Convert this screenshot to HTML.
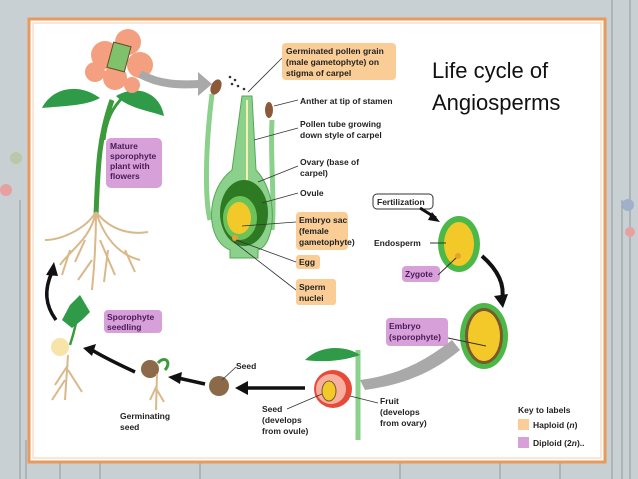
<!DOCTYPE html>
<html><head><style>
body{margin:0;width:638px;height:479px;overflow:hidden;background:#c9d0d3;}
svg{display:block}
text{font-family:"Liberation Sans",sans-serif;font-weight:bold;font-size:8.5px;fill:#222}
</style></head><body>
<svg width="638" height="479" viewBox="0 0 638 479">
<rect x="0" y="0" width="638" height="479" fill="#c9d0d3"/>
<g stroke="#8f999d" stroke-width="1" fill="none">
<path d="M20 200 V479"/><path d="M26 440 V479"/><path d="M612 0 V479"/><path d="M622 200 V479"/><path d="M630 0 V479"/>
<path d="M60 463 V479 M100 463 V479 M200 463V479 M400 463V479 M500 463V479 M560 463V479"/>
</g>
<circle cx="16" cy="158" r="6" fill="#b9c8a8"/><circle cx="6" cy="190" r="6" fill="#e7a0a0"/><circle cx="628" cy="205" r="6" fill="#9fb0c8"/><circle cx="630" cy="232" r="5" fill="#e7a0a0"/>
<rect x="29" y="19" width="576" height="443" fill="#fff" stroke="#e89a5a" stroke-width="3"/>
<rect x="33" y="23" width="568" height="435" fill="none" stroke="#f3d2b0" stroke-width="1"/>

<text x="432" y="78" style="font-size:22px;font-weight:normal;fill:#111">Life cycle of</text>
<text x="432" y="110" style="font-size:22px;font-weight:normal;fill:#111">Angiosperms</text>

<!-- plant -->
<path d="M96 215 C98 170 98 140 112 100" stroke="#3c9a3c" stroke-width="5" fill="none"/>
<path d="M104 140 C106 120 112 108 124 96" stroke="#3c9a3c" stroke-width="3" fill="none"/>
<path d="M42 108 C52 88 78 82 100 98 C86 106 62 106 42 108Z" fill="#2f9a48"/>
<path d="M116 96 C136 84 160 92 164 116 C146 110 128 108 116 96Z" fill="#2f9a48"/>
<g fill="#f4a080">
<circle cx="105" cy="55" r="14"/><circle cx="128" cy="42" r="13"/><circle cx="140" cy="65" r="13"/><circle cx="115" cy="78" r="12"/><circle cx="95" cy="72" r="10"/><circle cx="132" cy="85" r="8"/>
</g>
<rect x="110" y="44" width="18" height="26" fill="#7fc26b" stroke="#6b4a2a" transform="rotate(15 119 57)"/>
<g stroke="#d9b88a" stroke-width="2" fill="none">
<path d="M96 212 C90 240 70 250 60 265 M96 212 C96 240 95 260 92 290 M96 212 C105 240 120 255 140 260 M96 212 C85 230 60 240 45 240 M96 212 C110 230 130 235 148 232 M92 260 L78 280 M100 240 L115 275 M70 250 L62 275 M125 250 L135 272 M85 240 L75 262 M108 250 L104 282"/>
</g>
<rect x="106" y="138" width="56" height="50" rx="5" fill="#d7a0d8"/>
<text x="110" y="149" style="fill:#4a1a5a">Mature</text><text x="110" y="159" style="fill:#4a1a5a">sporophyte</text><text x="110" y="169" style="fill:#4a1a5a">plant with</text><text x="110" y="179" style="fill:#4a1a5a">flowers</text>

<!-- grey arrow -->
<path d="M140 74 C160 85 180 85 200 84" stroke="#a9a9a9" stroke-width="8" fill="none"/>
<path d="M198 72 L212 84 L198 96Z" fill="#a9a9a9"/>

<!-- carpel -->
<path d="M212 94 C205 150 205 200 210 220" stroke="#8bd08b" stroke-width="5" fill="none"/>
<path d="M272 120 C270 160 275 200 272 230" stroke="#8bd08b" stroke-width="5" fill="none"/>
<ellipse cx="216" cy="87" rx="5" ry="8" fill="#8a5a3a" transform="rotate(25 216 87)"/>
<ellipse cx="269" cy="110" rx="4" ry="8" fill="#8a5a3a"/>
<path d="M242 96 L252 96 L256 170 C280 195 275 245 258 250 L258 258 L230 258 L230 250 C205 240 205 190 232 170Z" fill="#8bd08b" stroke="#55a855"/>
<path d="M247 100 V180" stroke="#f8f0b0" stroke-width="2"/>
<ellipse cx="244" cy="213" rx="24" ry="33" fill="#2d7a22"/>
<ellipse cx="240" cy="218" rx="17" ry="22" fill="#6cc35a"/>
<ellipse cx="239" cy="218" rx="12" ry="16" fill="#f3c92a"/>
<circle cx="235" cy="238" r="3" fill="#e8a030"/>
<g fill="#333"><circle cx="230" cy="77" r="1.3"/><circle cx="235" cy="80" r="1.3"/><circle cx="238" cy="86" r="1.3"/><circle cx="244" cy="89" r="1.3"/><circle cx="232" cy="84" r="1.3"/></g>

<!-- labels carpel -->
<g stroke="#333" stroke-width="0.8">
<line x1="282" y1="58" x2="248" y2="92"/><line x1="298" y1="100" x2="274" y2="106"/><line x1="298" y1="128" x2="254" y2="140"/>
<line x1="298" y1="166" x2="258" y2="182"/><line x1="298" y1="193" x2="262" y2="203"/><line x1="296" y1="222" x2="242" y2="226"/>
<line x1="296" y1="262" x2="236" y2="240"/><line x1="296" y1="290" x2="234" y2="242"/>
</g>
<rect x="282" y="43" width="114" height="37" rx="4" fill="#f9cd95"/>
<text x="286" y="54">Germinated pollen grain</text><text x="286" y="65">(male gametophyte) on</text><text x="286" y="76">stigma of carpel</text>
<text x="300" y="104">Anther at tip of stamen</text>
<text x="300" y="127">Pollen tube growing</text><text x="300" y="138">down style of carpel</text>
<text x="300" y="165">Ovary (base of</text><text x="300" y="176">carpel)</text>
<text x="300" y="196">Ovule</text>
<rect x="296" y="212" width="52" height="38" rx="4" fill="#f9cd95"/>
<text x="299" y="223">Embryo sac</text><text x="299" y="234">(female</text><text x="299" y="245">gametophyte)</text>
<rect x="296" y="255" width="24" height="14" rx="3" fill="#f9cd95"/><text x="299" y="265">Egg</text>
<rect x="296" y="279" width="40" height="26" rx="3" fill="#f9cd95"/><text x="299" y="290">Sperm</text><text x="299" y="301">nuclei</text>

<!-- fertilization -->
<rect x="373" y="194" width="60" height="15" rx="4" fill="#fff" stroke="#333"/>
<text x="377" y="205">Fertilization</text>
<path d="M420 208 L436 218" stroke="#111" stroke-width="3"/><path d="M432 212 L440 222 L428 220Z" fill="#111"/>
<ellipse cx="459" cy="244" rx="21" ry="28" fill="#4cb848"/>
<ellipse cx="459" cy="244" rx="15" ry="22" fill="#f3c92a"/>
<circle cx="458" cy="256" r="3" fill="#e8a030"/>
<text x="374" y="246">Endosperm</text><line x1="430" y1="243" x2="446" y2="243" stroke="#333"/>
<rect x="402" y="266" width="38" height="16" rx="4" fill="#d7a0d8"/><text x="405" y="277" style="fill:#4a1a5a">Zygote</text>
<line x1="438" y1="275" x2="456" y2="258" stroke="#333"/>
<path d="M482 256 C498 270 505 285 502 300" stroke="#111" stroke-width="4" fill="none"/>
<path d="M494 296 L503 308 L508 294Z" fill="#111"/>

<ellipse cx="484" cy="336" rx="24" ry="33" fill="#4cb848"/>
<ellipse cx="484" cy="336" rx="19" ry="28" fill="#7a5a2a"/>
<ellipse cx="484" cy="336" rx="16" ry="25" fill="#f3c92a"/>
<rect x="386" y="318" width="62" height="28" rx="4" fill="#d7a0d8"/>
<text x="389" y="329" style="fill:#4a1a5a">Embryo</text><text x="389" y="340" style="fill:#4a1a5a">(sporophyte)</text>
<line x1="448" y1="338" x2="486" y2="346" stroke="#333"/>

<!-- grey arrow to fruit -->
<path d="M460 350 C430 375 400 385 365 390 L360 380 C395 375 420 365 452 340Z" fill="#a9a9a9"/>
<!-- fruit -->
<path d="M358 350 V440" stroke="#8bd08b" stroke-width="5"/>
<path d="M305 360 C320 345 345 345 360 355 C340 362 320 362 305 360Z" fill="#2f9a48"/>
<circle cx="333" cy="389" r="19" fill="#e84a3a"/><circle cx="331" cy="389" r="15" fill="#f7b0a0"/>
<ellipse cx="329" cy="391" rx="7" ry="10" fill="#f3c92a" stroke="#7a5a2a"/>
<text x="380" y="404">Fruit</text><text x="380" y="415">(develops</text><text x="380" y="426">from ovary)</text>
<line x1="378" y1="403" x2="350" y2="396" stroke="#333" stroke-width="0.8"/>
<text x="262" y="412">Seed</text><text x="262" y="423">(develops</text><text x="262" y="434">from ovule)</text>
<line x1="287" y1="409" x2="322" y2="394" stroke="#333" stroke-width="0.8"/>

<!-- bottom arrows -->
<path d="M305 388 H245" stroke="#111" stroke-width="3.5"/><path d="M248 381 L235 388 L248 395Z" fill="#111"/>
<circle cx="219" cy="386" r="10" fill="#8a6a48"/>
<text x="236" y="369">Seed</text><line x1="236" y1="367" x2="222" y2="380" stroke="#333" stroke-width="0.8"/>
<path d="M205 384 L178 378" stroke="#111" stroke-width="3.5"/><path d="M182 372 L168 377 L180 384Z" fill="#111"/>
<circle cx="150" cy="369" r="9" fill="#8a6a48"/>
<path d="M158 363 C165 355 172 362 165 370" stroke="#3c9a3c" stroke-width="3" fill="none"/>
<path d="M157 374 L156 410 M157 385 L150 400 M157 390 L164 402" stroke="#d9b88a" stroke-width="2"/>
<text x="120" y="419">Germinating</text><text x="120" y="430">seed</text>
<path d="M135 372 C120 365 105 358 92 350" stroke="#111" stroke-width="3.5" fill="none"/><path d="M96 344 L83 348 L92 356Z" fill="#111"/>
<circle cx="60" cy="347" r="9" fill="#f8e4a8"/>
<path d="M70 345 C75 330 78 315 80 300" stroke="#3c9a3c" stroke-width="2.5" fill="none"/>
<path d="M62 320 L70 305 L80 295 L90 312 L82 320 L72 328Z" fill="#2f9a48"/>
<path d="M68 355 L65 400 M68 365 L55 385 M68 370 L82 392 M65 380 L52 400" stroke="#d9b88a" stroke-width="2"/>
<path d="M56 320 C45 305 44 290 52 272" stroke="#111" stroke-width="3.5" fill="none"/><path d="M46 275 L54 262 L58 276Z" fill="#111"/>
<rect x="104" y="310" width="58" height="23" rx="4" fill="#d7a0d8"/>
<text x="107" y="320" style="fill:#4a1a5a">Sporophyte</text><text x="107" y="330" style="fill:#4a1a5a">seedling</text>

<!-- key -->
<text x="518" y="413">Key to labels</text>
<rect x="518" y="419" width="11" height="11" fill="#f9cd95"/><text x="533" y="428">Haploid (<tspan font-style="italic">n</tspan>)</text>
<rect x="518" y="437" width="11" height="11" fill="#d7a0d8"/><text x="533" y="446">Diploid (2<tspan font-style="italic">n</tspan>)..</text>
</svg>
</body></html>
